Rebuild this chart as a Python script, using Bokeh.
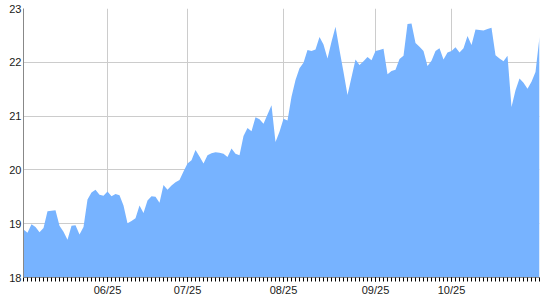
from bokeh.plotting import figure
from bokeh.models import FixedTicker, Range1d, ColumnDataSource
from bokeh.embed import file_html
from bokeh.resources import INLINE

# Daily values (one per trading day)
values = [
    18.89, 18.83, 18.99, 18.94, 18.84, 18.92, 19.23, 19.24, 19.25, 18.96,
    18.85, 18.70, 18.96, 18.97, 18.80, 18.94, 19.45, 19.58, 19.63, 19.54,
    19.52, 19.60, 19.51, 19.55, 19.53, 19.34, 19.01, 19.05, 19.10, 19.34,
    19.20, 19.43, 19.51, 19.50, 19.39, 19.72, 19.63, 19.71, 19.77, 19.81,
    19.97, 20.12, 20.18, 20.37, 20.25, 20.12, 20.27, 20.31, 20.33, 20.32,
    20.30, 20.24, 20.40, 20.30, 20.27, 20.63, 20.78, 20.72, 20.98, 20.94,
    20.86, 21.03, 21.20, 20.52, 20.71, 20.95, 20.92, 21.36, 21.67, 21.89,
    21.99, 22.23, 22.21, 22.24, 22.47, 22.33, 22.07, 22.38, 22.66, 22.23,
    21.82, 21.39, 21.72, 22.05, 21.95, 22.02, 22.10, 22.04, 22.21, 22.23,
    22.25, 21.78, 21.84, 21.86, 22.06, 22.12, 22.71, 22.72, 22.36, 22.29,
    22.21, 21.93, 22.03, 22.21, 22.26, 22.05, 22.18, 22.21, 22.28, 22.18,
    22.26, 22.49, 22.32, 22.61, 22.60, 22.59, 22.62, 22.64, 22.13, 22.07,
    22.02, 22.12, 21.17, 21.48, 21.70, 21.62, 21.51, 21.64, 21.82, 22.47,
]
month_idx = [21, 41, 65, 88, 107]
month_labels = ["06/25", "07/25", "08/25", "09/25", "10/25"]
y_ticks = [18, 19, 20, 21, 22, 23]

idx = list(range(len(values)))
src = ColumnDataSource(dict(x=idx, y=values))

p = figure(width=540, height=300, output_backend="svg", toolbar_location=None,
           x_range=Range1d(0, len(values) - 1), y_range=Range1d(18, 23),
           min_border_left=23, min_border_right=1, min_border_top=8,
           min_border_bottom=23)
p.outline_line_color = None
p.background_fill_color = "white"
p.border_fill_color = "white"

p.varea(x="x", y1=18, y2="y", source=src, fill_color="#77B3FF")

# x axis
p.xaxis.ticker = FixedTicker(ticks=month_idx, minor_ticks=idx)
p.xaxis.major_label_overrides = {i: l for i, l in zip(month_idx, month_labels)}
p.xaxis.axis_line_color = "#888888"
p.xaxis.major_tick_line_color = "black"
p.xaxis.minor_tick_line_color = "black"
p.xaxis.major_tick_out = 4
p.xaxis.major_tick_in = 0
p.xaxis.minor_tick_out = 4
p.xaxis.minor_tick_in = 0
p.xaxis.major_label_standoff = 2

# y axis
p.yaxis.ticker = FixedTicker(ticks=y_ticks)
p.yaxis.axis_line_color = "#888888"
p.yaxis.major_tick_out = 0
p.yaxis.major_tick_in = 0
p.yaxis.minor_tick_out = 0
p.yaxis.minor_tick_in = 0
p.yaxis.major_tick_line_color = None
p.yaxis.minor_tick_line_color = None
p.yaxis.major_label_standoff = 2

for ax in (p.xaxis, p.yaxis):
    ax.major_label_text_font = "Liberation Sans"
    ax.major_label_text_font_size = "11px"
    ax.major_label_text_color = "#1a1a1a"

p.xgrid.ticker = FixedTicker(ticks=month_idx)
p.ygrid.ticker = FixedTicker(ticks=y_ticks)
p.xgrid.grid_line_color = "#cccccc"
p.ygrid.grid_line_color = "#cccccc"

open("out.html", "w").write(file_html(p, INLINE))
